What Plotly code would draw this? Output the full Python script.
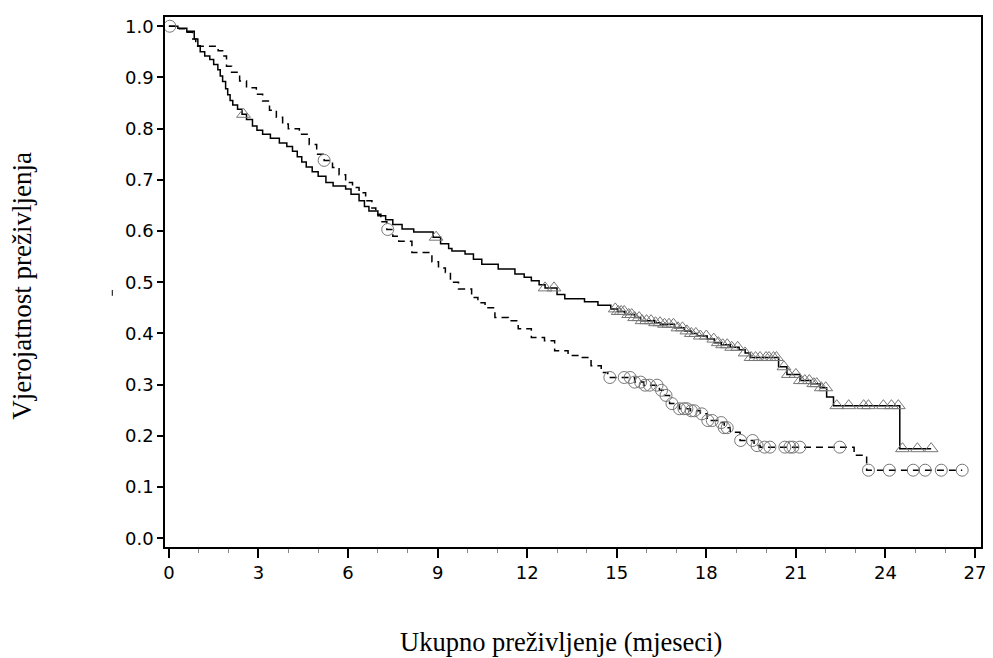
import numpy as np
import plotly.graph_objects as go

# ---- Group A (solid line, triangle censor marks) ----
a_time = [0, 0.3, 0.6, 0.85, 0.97, 1.05, 1.2, 1.37, 1.5, 1.64, 1.72, 1.8, 1.9, 1.97, 2.05,
          2.14, 2.3, 2.45, 2.6, 2.8, 2.95, 3.14, 3.4, 3.7, 3.95, 4.14, 4.3, 4.45, 4.6, 4.8,
          5.0, 5.26, 5.5, 5.92, 6.1, 6.37, 6.55, 6.7, 7.0, 7.26, 7.5, 7.81, 8.2, 8.85, 9.1,
          9.37, 9.48, 9.92, 10.2, 10.48, 11.03, 11.59, 11.9, 12.14, 12.4, 12.6, 13.0, 13.26,
          13.92, 14.37, 14.8, 15.03, 15.27, 15.6, 15.8, 16.27, 16.47, 16.93, 17.27, 17.5,
          17.7, 18.03, 18.27, 18.5, 18.8, 19.1, 19.3, 19.47, 20.42, 20.7, 21.14, 21.5, 21.81,
          22.03, 22.26, 24.48, 25.53]
a_surv = [1.0, 0.996, 0.99, 0.975, 0.962, 0.95, 0.942, 0.935, 0.925, 0.915, 0.903, 0.892,
          0.878, 0.866, 0.855, 0.846, 0.838, 0.828, 0.818, 0.805, 0.797, 0.789, 0.781, 0.772,
          0.765, 0.756, 0.745, 0.735, 0.725, 0.716, 0.707, 0.695, 0.688, 0.682, 0.672, 0.659,
          0.648, 0.639, 0.63, 0.622, 0.613, 0.604, 0.598, 0.588, 0.575, 0.566, 0.561, 0.555,
          0.545, 0.535, 0.526, 0.516, 0.51, 0.503, 0.495, 0.489, 0.476, 0.468, 0.462, 0.455,
          0.448, 0.443, 0.437, 0.431, 0.425, 0.421, 0.418, 0.411, 0.405, 0.4, 0.395, 0.389,
          0.382, 0.378, 0.373, 0.368, 0.362, 0.353, 0.335, 0.32, 0.308, 0.302, 0.294, 0.276,
          0.259, 0.175, 0.175]
a_censor = [2.5, 8.95, 12.6, 12.9, 14.95, 15.05, 15.15, 15.25, 15.4, 15.5, 15.6, 15.75,
            15.85, 16.0, 16.15, 16.3, 16.45, 16.6, 16.75, 16.9, 17.05, 17.2, 17.35, 17.5,
            17.65, 17.8, 18.0, 18.25, 18.4, 18.55, 18.7, 18.85, 19.05, 19.3, 19.5, 19.65,
            19.8, 20.0, 20.1, 20.25, 20.35, 20.6, 20.75, 21.0, 21.15, 21.3, 21.45, 21.6, 21.7,
            21.85, 22.0, 22.37, 22.77, 23.27, 23.43, 23.93, 24.2, 24.43, 24.57, 25.07, 25.53]

# ---- Group B (dashed line, circle censor marks) ----
b_time = [0, 0.35, 0.6, 0.8, 0.9, 1.65, 1.8, 1.93, 2.1, 2.37, 2.6, 2.93, 3.14, 3.37, 3.6,
          3.81, 4.0, 4.37, 4.7, 4.95, 5.2, 5.48, 5.7, 5.92, 6.15, 6.37, 6.59, 6.8, 6.93, 7.1,
          7.3, 7.5, 7.7, 8.14, 8.81, 9.03, 9.26, 9.43, 9.7, 10.14, 10.35, 10.59, 10.92, 11.37,
          11.7, 12.14, 12.58, 12.92, 13.37, 13.81, 14.14, 14.48, 14.7, 15.6, 15.9, 16.43,
          16.6, 16.77, 17.1, 17.47, 17.8, 18.03, 18.37, 18.6, 18.8, 19.13, 19.6, 19.8, 22.95,
          23.37, 26.57]
b_surv = [1.0, 0.995, 0.988, 0.975, 0.961, 0.952, 0.942, 0.922, 0.91, 0.893, 0.88, 0.867,
          0.854, 0.836, 0.822, 0.809, 0.8, 0.789, 0.769, 0.75, 0.738, 0.724, 0.71, 0.695,
          0.685, 0.675, 0.659, 0.645, 0.633, 0.618, 0.603, 0.59, 0.58, 0.558, 0.54, 0.528,
          0.519, 0.5, 0.487, 0.47, 0.46, 0.45, 0.431, 0.425, 0.409, 0.392, 0.386, 0.366,
          0.357, 0.353, 0.337, 0.324, 0.314, 0.305, 0.299, 0.289, 0.279, 0.263, 0.253, 0.249,
          0.243, 0.23, 0.226, 0.216, 0.207, 0.191, 0.181, 0.178, 0.162, 0.133, 0.133]
b_censor = [0.03, 5.2, 7.33, 14.77, 15.25, 15.45, 15.6, 15.8, 15.95, 16.1, 16.35, 16.5,
            16.65, 16.85, 17.1, 17.25, 17.35, 17.5, 17.6, 17.85, 18.05, 18.2, 18.5, 18.6,
            18.7, 19.15, 19.55, 19.7, 19.95, 20.13, 20.63, 20.8, 20.9, 21.13, 22.47, 23.43,
            24.13, 24.93, 25.33, 25.87, 26.57]

x_ticks = [0, 3, 6, 9, 12, 15, 18, 21, 24, 27]
y_ticks = [0.0, 0.1, 0.2, 0.3, 0.4, 0.5, 0.6, 0.7, 0.8, 0.9, 1.0]
x_title = "Ukupno preživljenje (mjeseci)"
y_title = "Vjerojatnost preživljenja"


def surv_at(times, surv, t):
    idx = np.searchsorted(np.array(times), np.array(t), side="right") - 1
    return np.array(surv)[idx]


fig = go.Figure()
fig.add_trace(go.Scatter(x=a_time, y=a_surv, mode="lines", line_shape="hv",
                         line=dict(color="black", width=1.5), showlegend=False))
fig.add_trace(go.Scatter(x=b_time, y=b_surv, mode="lines", line_shape="hv",
                         line=dict(color="black", width=1.5, dash="7px,5px"), showlegend=False))
fig.add_trace(go.Scatter(x=a_censor, y=surv_at(a_time, a_surv, a_censor), mode="markers",
                         marker=dict(symbol="triangle-up-open", size=12, color="#777777",
                                     line=dict(width=1)), showlegend=False))
fig.add_trace(go.Scatter(x=b_censor, y=surv_at(b_time, b_surv, b_censor), mode="markers",
                         marker=dict(symbol="circle-open", size=12, color="#777777",
                                     line=dict(width=1)), showlegend=False))

fig.update_layout(
    width=985, height=650,
    margin=dict(l=157, r=8, t=7, b=111),
    paper_bgcolor="white", plot_bgcolor="white",
    font=dict(family="DejaVu Sans", color="black"),
    xaxis=dict(range=[-0.13, 27.2], tickvals=x_ticks, ticks="outside", ticklen=9,
               tickwidth=1.5, tickcolor="black", showline=True, linecolor="black",
               linewidth=1.5, mirror=True, showgrid=False, zeroline=False,
               tickfont=dict(size=18, family="DejaVu Sans"),
               minor=dict(dtick=1, tick0=0, ticks="outside", ticklen=4, tickcolor="#888888",
                          tickwidth=1)),
    yaxis=dict(range=[-0.017, 1.018], tickvals=y_ticks, ticktext=[f"{v:.1f}" for v in y_ticks],
               ticks="outside", ticklen=6, tickwidth=1.5, tickcolor="black", showline=True,
               linecolor="black", linewidth=1.5, mirror=True, showgrid=False, zeroline=False,
               tickfont=dict(size=18, family="DejaVu Sans")),
    annotations=[
        dict(text=x_title, xref="paper", yref="paper", x=0.485, y=-0.1786, xanchor="center",
             yanchor="middle", showarrow=False,
             font=dict(family="Liberation Serif", size=26.5, color="black")),
        dict(text=y_title, xref="paper", yref="paper", x=-0.1756, y=0.4925, xanchor="center",
             yanchor="middle", textangle=-90, showarrow=False,
             font=dict(family="Liberation Serif", size=27, color="black")),
    ],
    shapes=[dict(type="line", xref="paper", yref="paper", x0=-0.0646, x1=-0.0646,
                 y0=0.474, y1=0.485, line=dict(color="black", width=1))],
)

fig.write_html("out.html")
